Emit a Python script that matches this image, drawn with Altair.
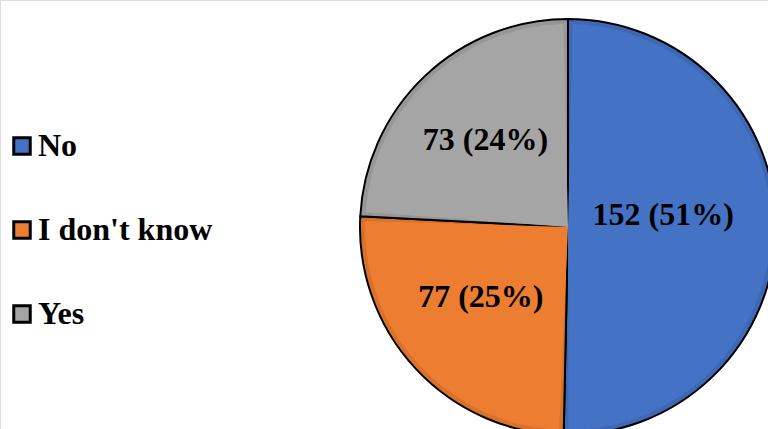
import math
import altair as alt
import pandas as pd

# Survey answers, drawn clockwise from 12 o'clock
categories = ["No", "I don't know", "Yes"]
counts = [152, 77, 73]
percents = ["51%", "25%", "24%"]

colors = ["#4472C4", "#ED7D31", "#A5A5A5"]
rim_colors = ["#3E68B4", "#D8712C", "#979797"]

df = pd.DataFrame({
    "answer": categories,
    "count": counts,
    "order": list(range(len(categories))),
    "label": [f"{c} ({p})" for c, p in zip(counts, percents)],
})

CX, CY = 568, 227
FONT = "'Times New Roman', 'Liberation Serif', serif"

theta = alt.Theta("count:Q", stack=True)
order = alt.Order("order:Q")

# darker outer layer gives each slice its bevelled rim
rim = alt.Chart(df).mark_arc(
    outerRadius=208, stroke="black", strokeWidth=2
).encode(
    theta=theta,
    order=order,
    color=alt.Color("answer:N", scale=alt.Scale(domain=categories, range=rim_colors), legend=None),
    x=alt.value(CX), y=alt.value(CY),
)

face = alt.Chart(df).mark_arc(
    outerRadius=203, padAngle=0.045
).encode(
    theta=theta,
    order=order,
    color=alt.Color(
        "answer:N",
        scale=alt.Scale(domain=categories, range=colors),
        sort=categories,
        legend=alt.Legend(
            title=None,
            orient="none",
            legendX=6,
            legendY=130,
            direction="vertical",
            symbolType="square",
            symbolSize=272,
            symbolStrokeColor="black",
            symbolStrokeWidth=3,
            symbolOpacity=1,
            labelFont=FONT,
            labelFontWeight="bold",
            labelFontSize=32,
            labelColor="black",
            labelOffset=0,
            labelLimit=400,
            rowPadding=52,
        ),
    ),
    x=alt.value(CX), y=alt.value(CY),
)

# value labels near each slice's mid-angle (radians, clockwise from 12 o'clock)
labels = alt.Chart(df).transform_window(
    cum="sum(count)", sort=[alt.SortField("order")]
).transform_joinaggregate(
    total="sum(count)"
).transform_calculate(
    nudge="datum.answer == 'No' ? -0.14 : (datum.answer == 'Yes' ? 0 : 0.07)",
    r="datum.answer == 'No' ? 96 : (datum.answer == 'Yes' ? 120 : 112)",
).transform_calculate(
    mid=f"2 * {math.pi} * (datum.cum - datum.count / 2) / datum.total + datum.nudge",
).mark_text(
    font=FONT, fontWeight="bold", fontSize=32, color="black", baseline="middle"
).encode(
    theta=alt.Theta("mid:Q", scale=None, stack=None),
    radius=alt.Radius("r:Q", scale=None),
    text="label:N",
    x=alt.value(CX), y=alt.value(CY),
)

chart = alt.layer(rim, face, labels).resolve_scale(
    color="independent", theta="independent"
).properties(
    width=768, height=429, padding=0, autosize="none"
).configure_view(stroke=None).configure_legend(
    labelFont=FONT, labelFontWeight="bold"
).configure(background="white")

chart.save("out.html", embed_options={"renderer": "svg", "actions": False})
